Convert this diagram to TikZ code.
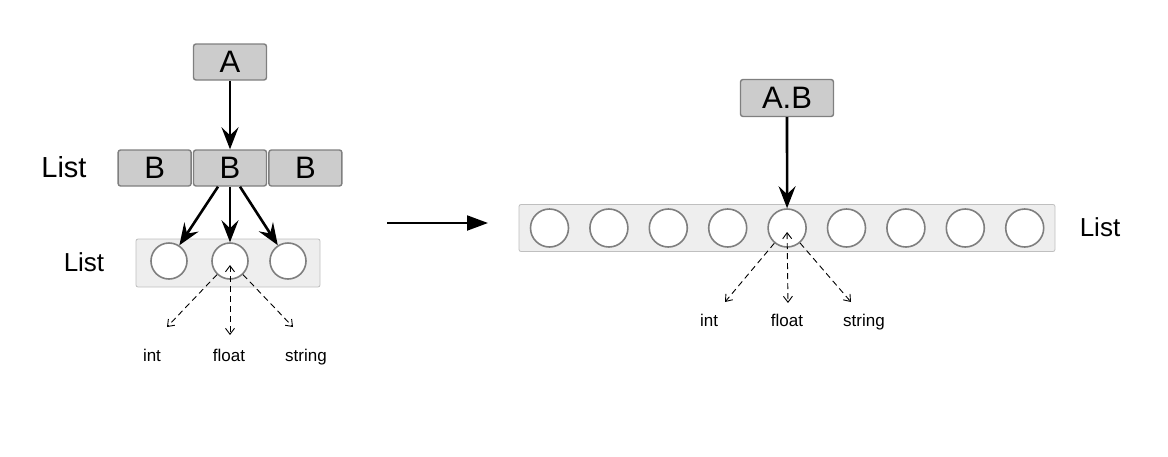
\documentclass[tikz,border=0pt]{standalone}
\usepackage{fontspec}
\setmainfont{Liberation Sans}
\usetikzlibrary{arrows.meta, positioning}

\definecolor{boxgray}{HTML}{CCCCCC}
\definecolor{edgegray}{HTML}{7F7F7F}
\definecolor{listgray}{HTML}{EEEEEE}
\definecolor{listedge}{HTML}{BFBFBF}

\begin{document}
\begin{tikzpicture}[x=1pt,y=-1pt,>={Stealth[length=22pt,width=17pt,inset=8pt]},->,line width=2.6pt,
  box node/.style={rectangle,rounded corners=2.5pt,fill=boxgray,draw=edgegray,line width=1.4pt,
    minimum width=73pt,minimum height=36pt,inner sep=0pt,font=\fontsize{31}{31}\selectfont},
  list node/.style={rectangle,rounded corners=2pt,fill=listgray,draw=listedge,line width=0.8pt,inner sep=0pt},
  item node/.style={circle,fill=white,draw=edgegray,line width=1.6pt,inner sep=0pt},
  name node/.style={inner sep=0pt,font=\fontsize{26}{26}\selectfont},
  type node/.style={inner sep=0pt,anchor=base,font=\fontsize{17}{17}\selectfont},
  type edge/.style={line width=0.9pt,dash pattern=on 6pt off 4pt,>={Straight Barb[length=6pt,width=9pt]}}]
  \useasboundingbox (0,0) rectangle (1168,456);

  % before: nested lists
  \node[box node] (A) at (230,62) {A};
  \node[box node] (B2) at (230,168) {B};
  \node[box node] (B1) [left=1pt of B2] {B};
  \node[box node] (B3) [right=1pt of B2] {B};
  \node[name node,font=\fontsize{29}{29}\selectfont] (outer) at (64,167) {List};
  \node[list node,minimum width=184pt,minimum height=48pt] (inner) at (228,263) {};
  \node[name node] (innerlabel) at (84,262) {List};
  \node[item node,minimum size=36pt] (c1) at (169,261) {};
  \node[item node,minimum size=36pt] (c2) at (230,261) {};
  \node[item node,minimum size=36pt] (c3) at (288,261) {};
  \node[type node] (int1) at (152,361) {int};
  \node[type node] (float1) at (229,361) {float};
  \node[type node] (string1) at (306,361) {string};
  \coordinate (e1) at (167,327);
  \coordinate (e2) at (230,335);
  \coordinate (e3) at (293,327);

  \path (A) edge (B2)
    ([xshift=-12pt]B2.south) edge (c1)
    (B2) edge (c2)
    ([xshift=10pt]B2.south) edge (c3);
  \path[type edge] (c2) edge[->] (e1)
    ([yshift=-4pt]c2.center) edge[<->] (e2)
    (c2) edge[->] (e3);

  % flatten
  \coordinate (m1) at (387,223);
  \coordinate (m2) at (488,223);
  \draw[-{Triangle[length=21pt,width=15pt]},line width=2pt] (m1) -- (m2);

  % after: one flat list
  \node[box node,minimum width=93pt,minimum height=37pt] (AB) at (787,98) {A.B};
  \node[list node,minimum width=536pt,minimum height=47pt] (flat) at (787,228) {};
  \node[name node] (flatlabel) at (1100,227) {List};
  \foreach \i in {1,...,9}
    \node[item node,minimum size=38pt] (r\i) at ({490.1+59.4*\i},228) {};
  \node[type node] (int2) at (709,326) {int};
  \node[type node] (float2) at (787,326) {float};
  \node[type node] (string2) at (864,326) {string};
  \coordinate (f1) at (725,302);
  \coordinate (f2) at (788,303);
  \coordinate (f3) at (851,302);

  \path (AB) edge (r5);
  \path[type edge] (r5) edge[->] (f1)
    ([yshift=-4pt]r5.center) edge[<->] (f2)
    (r5) edge[->] (f3);
\end{tikzpicture}
\end{document}
